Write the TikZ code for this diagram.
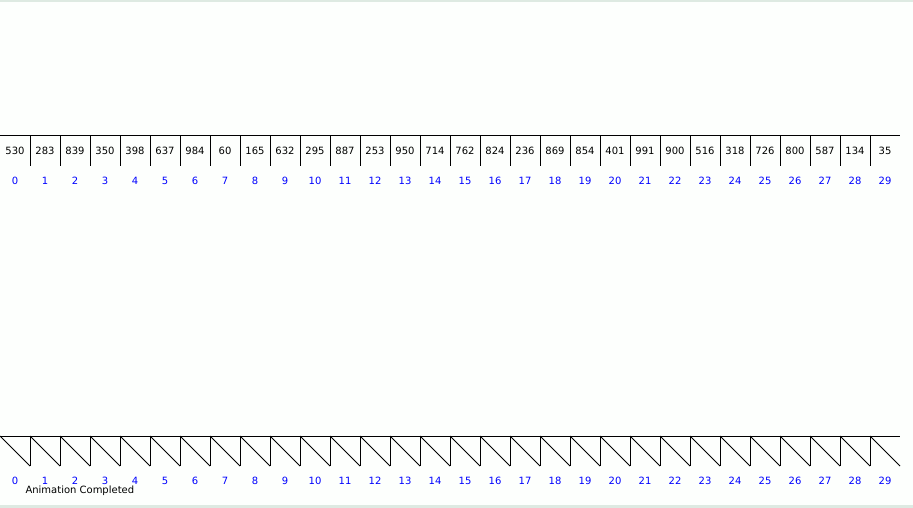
\documentclass[tikz,border=0pt]{standalone}
\usepackage{fontspec}
\setmainfont{DejaVu Sans}
\usetikzlibrary{positioning}
\definecolor{idxblue}{RGB}{0,0,255}
\definecolor{bgpaper}{RGB}{253,255,253}
\definecolor{bgrim}{RGB}{222,234,226}

\begin{document}
\begin{tikzpicture}[x=1pt, y=-1pt, font=\fontsize{10}{12}\selectfont, line width=1pt]
    % Background
    \fill[bgpaper] (0,0) rectangle (913,508);
    \fill[bgrim] (0,0) rectangle (913,2);
    \fill[bgrim] (0,505) rectangle (913,508);
    \useasboundingbox (0,0) rectangle (913,508);
    % Value array
    \draw (0,136) -- (900,136);
    \foreach \v [count=\i from 0] in {530,283,839,350,398,637,984,60,165,632,295,887,253,950,714,762,824,236,869,854,401,991,900,516,318,726,800,587,134,35}{
      \node (val\i) at ({30*\i+15},151) {\v};
      \node[idxblue] (top\i) at ({30*\i+15},181) {\i};
    }
    \foreach \i in {1,...,29}
      \draw ({30*\i},136) -- ({30*\i},166);
    % Sawtooth array
    \draw (0,436) -- (900,436);
    \foreach \i in {0,...,29}{
      \draw ({30*\i},436) -- ({30*\i+30},466);
      \node[idxblue] (bot\i) at ({30*\i+15},481) {\i};
    }
    \foreach \i in {1,...,29}
      \draw ({30*\i},436) -- ({30*\i},466);
    % Status
    \node[anchor=west, inner sep=0pt] (status) at (25,491) {Animation Completed};
  \end{tikzpicture}
\end{document}
